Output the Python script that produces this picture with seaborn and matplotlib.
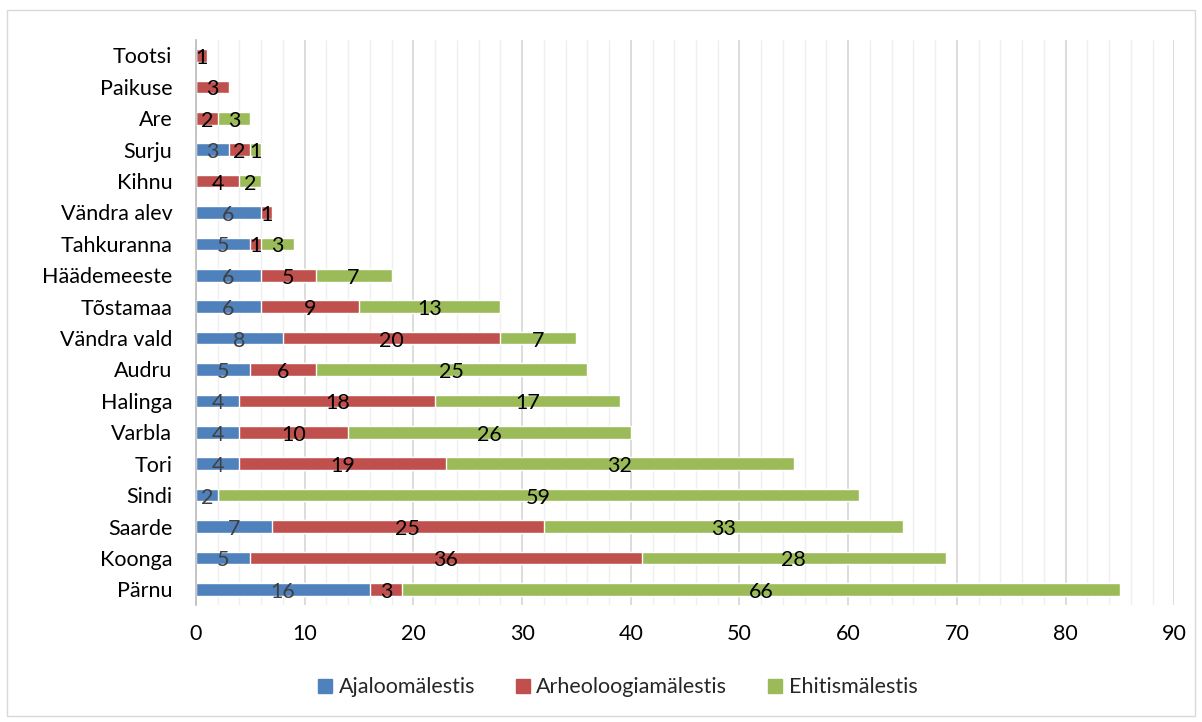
import numpy as np
import pandas as pd
import matplotlib.pyplot as plt
import seaborn as sns
from matplotlib.patches import Patch, Rectangle
from matplotlib.ticker import MultipleLocator

places = ['Tootsi', 'Paikuse', 'Are', 'Surju', 'Kihnu', 'Vändra alev', 'Tahkuranna',
          'Häädemeeste', 'Tõstamaa', 'Vändra vald', 'Audru', 'Halinga', 'Varbla',
          'Tori', 'Sindi', 'Saarde', 'Koonga', 'Pärnu']
ajaloo = [0, 0, 0, 3, 0, 6, 5, 6, 6, 8, 5, 4, 4, 4, 2, 7, 5, 16]
arheo = [1, 3, 2, 2, 4, 1, 1, 5, 9, 20, 6, 18, 10, 19, 0, 25, 36, 3]
ehitis = [0, 0, 3, 1, 2, 0, 3, 7, 13, 7, 25, 17, 26, 32, 59, 33, 28, 66]
series = ['Ajaloomälestis', 'Arheoloogiamälestis', 'Ehitismälestis']
colors = ['#4F81BD', '#C0504D', '#9BBB59']

sns.set_theme(style='white')
plt.rcParams['font.family'] = ['Lato', 'DejaVu Sans']

df = pd.DataFrame({'place': places, 'a': ajaloo, 'b': arheo, 'c': ehitis})
df['ab'] = df['a'] + df['b']
df['abc'] = df['ab'] + df['c']

fig = plt.figure(figsize=(12.02, 7.22), dpi=100)
ax = fig.add_axes([0.163, 0.162, 0.814, 0.783])

# stacked by overlaying cumulative totals
bh = 0.4
sns.barplot(data=df, y='place', x='abc', color=colors[2], width=bh, saturation=1, ax=ax, orient='h')
sns.barplot(data=df, y='place', x='ab', color=colors[1], width=bh, saturation=1, ax=ax, orient='h')
sns.barplot(data=df, y='place', x='a', color=colors[0], width=bh, saturation=1, ax=ax, orient='h')

for i, row in df.iterrows():
    starts = [0, row['a'], row['ab']]
    vals = [row['a'], row['b'], row['c']]
    for j, (s, v) in enumerate(zip(starts, vals)):
        if v > 0:
            ax.text(s + v / 2, i + 0.08, str(v), ha='center', va='center', fontsize=15.5,
                    color='#404040' if j == 0 else 'black')

ax.set_xlim(0, 90)
ax.set_ylim(17.5, -0.5)
ax.xaxis.set_major_locator(MultipleLocator(10))
ax.xaxis.set_minor_locator(MultipleLocator(2))
ax.grid(axis='x', which='major', color='#d9d9d9', linewidth=1.3)
ax.grid(axis='x', which='minor', color='#efefef', linewidth=1.0)
ax.set_axisbelow(True)
for side in ['top', 'right', 'bottom']:
    ax.spines[side].set_visible(False)
ax.spines['left'].set_color('#bfbfbf')
ax.tick_params(axis='both', which='both', length=0, labelsize=15.5, colors='black')
ax.tick_params(axis='x', pad=14)
ax.tick_params(axis='y', pad=17)
ax.set_xlabel('')
ax.set_ylabel('')

handles = [Patch(color=c, label=s) for c, s in zip(colors, series)]
fig.legend(handles=handles, loc='center', bbox_to_anchor=(0.514, 0.048), ncol=3, frameon=False,
           fontsize=15.5, handlelength=0.65, handleheight=0.65, handletextpad=0.3, columnspacing=1.9)

fig.patches.append(Rectangle((0.006, 0.008), 0.988, 0.978, transform=fig.transFigure,
                             fill=False, edgecolor='#d9d9d9', linewidth=1))

fig.savefig('out.png', dpi=100)
